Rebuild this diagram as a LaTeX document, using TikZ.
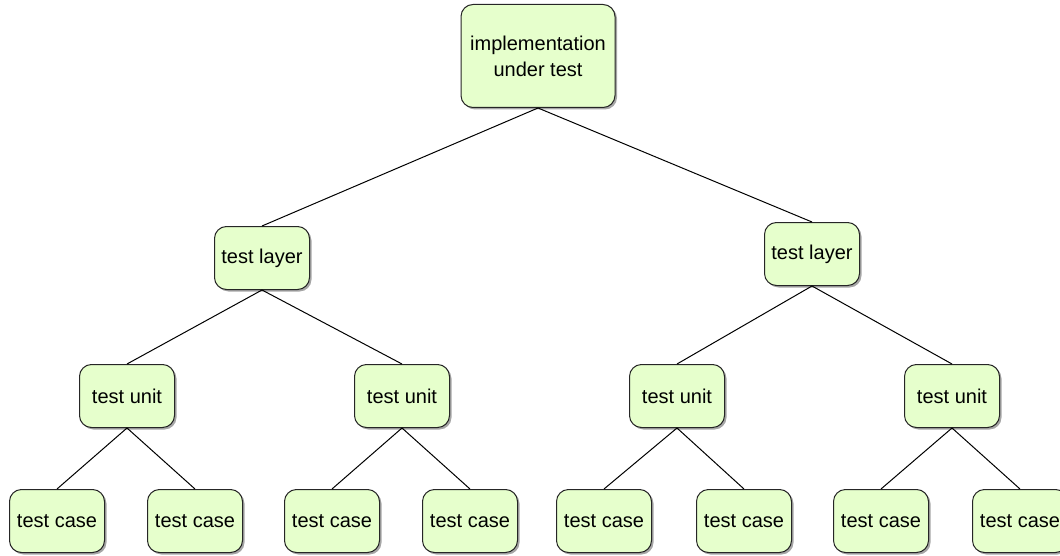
\documentclass[tikz,border=0pt]{standalone}
\usepackage{fontspec}
\setmainfont{Liberation Sans}
\usetikzlibrary{shadows}
\definecolor{boxgreen}{RGB}{230,255,204}
\tikzset{
  box/.style={draw=black!85, fill=boxgreen, rounded corners=6pt, line width=0.5pt,
    minimum width=47.5pt, minimum height=31.5pt, align=center, inner sep=2pt,
    font=\fontsize{10}{13}\selectfont,
    drop shadow={shadow xshift=1pt, shadow yshift=-1pt, fill=black!35, opacity=1}},
  link/.style={line width=0.5pt, black}
}
\begin{document}
\begin{tikzpicture}[x=0.5pt,y=-0.5pt]
  \useasboundingbox (0,0) rectangle (1060,556);
  % root
  \node[box, minimum width=77pt, minimum height=51.5pt] (iut) at (538,56) {implementation\\under test};
  % layers
  \node[box] (layerA) at (262,258) {test layer};
  \node[box] (layerB) at (812,254) {test layer};
  % units
  \foreach \x/\n in {127/1,402/2,677/3,952/4}
    \node[box] (unit\n) at (\x,396) {test unit};
  % cases
  \foreach \x/\n in {57/1,195/2,332/3,470/4,604/5,744/6,881/7,1020/8}
    \node[box] (case\n) at (\x,521) {test case};
  % links
  \draw[link] (iut.south) -- (layerA.north);
  \draw[link] (iut.south) -- (layerB.north);
  \draw[link] (layerA.south) -- (unit1.north);
  \draw[link] (layerA.south) -- (unit2.north);
  \draw[link] (layerB.south) -- (unit3.north);
  \draw[link] (layerB.south) -- (unit4.north);
  \foreach \u/\a/\b in {1/1/2,2/3/4,3/5/6,4/7/8}{
    \draw[link] (unit\u.south) -- (case\a.north);
    \draw[link] (unit\u.south) -- (case\b.north);
  }
\end{tikzpicture}
\end{document}
